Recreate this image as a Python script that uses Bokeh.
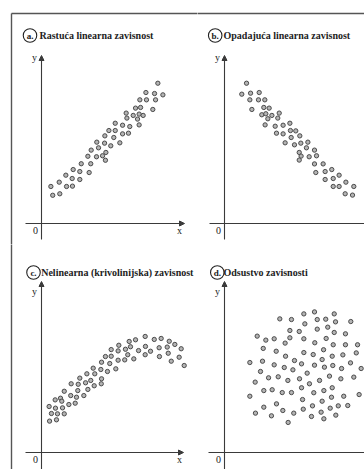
from bokeh.plotting import figure
from bokeh.layouts import gridplot
from bokeh.models import Arrow, NormalHead, Label
from bokeh.embed import file_html
from bokeh.resources import INLINE

# ---------------- data ----------------
letters = ["a.", "b.", "c.", "d."]
titles = ["Rastuća linearna zavisnost", "Opadajuća linearna zavisnost",
          "Nelinearna (krivolinijska) zavisnost", "Odsustvo zavisnosti"]

a_x = [8.08,7.25,7.85,8.43,6.83,7.29,7.92,6.53,6.88,7.73,5.88,6.37,6.78,7.06,5.93,6.67,5.12,5.63,6.13,6.78,
       4.68,5.12,4.40,5.02,5.63,6.04,3.84,4.38,4.81,5.44,3.96,4.47,3.45,3.22,3.82,4.24,4.44,2.76,3.42,2.20,
       2.66,3.31,1.69,2.13,2.66,1.23,0.65,1.74,2.15,0.78,1.27]
a_y = [8.45,7.89,7.83,7.75,7.45,7.45,7.45,6.95,6.99,6.87,6.65,6.51,6.59,6.51,6.35,6.29,6.04,5.92,5.84,5.94,
       5.60,5.60,5.28,5.18,5.40,5.44,4.90,4.84,4.68,4.86,4.56,4.28,4.42,4.05,4.02,4.08,3.81,3.60,3.60,3.25,
       3.13,3.07,2.91,2.71,2.65,2.49,2.23,2.23,2.25,1.70,1.79]

b_x = [1.53,1.20,1.81,2.41,1.76,2.36,2.80,1.90,2.73,3.10,2.59,2.87,3.29,3.80,3.01,3.70,2.82,3.52,4.07,4.54,
       3.61,4.07,4.58,4.95,4.63,5.23,4.21,4.86,5.30,5.79,5.19,5.69,6.25,5.32,5.88,6.39,5.19,6.25,6.85,6.34,
       6.99,7.45,6.99,7.55,7.96,7.55,7.96,8.43,8.98,8.38,8.89]
b_y = [8.45,7.79,7.85,7.89,7.45,7.45,7.45,6.87,6.99,6.95,6.55,6.61,6.51,6.65,6.31,6.35,5.94,5.86,5.92,6.04,
       5.44,5.40,5.60,5.58,5.18,5.28,4.86,4.74,4.84,4.90,4.28,4.56,4.42,4.06,4.02,4.08,3.82,3.59,3.59,3.07,
       3.13,3.25,2.65,2.71,2.91,2.23,2.23,2.49,2.23,1.79,1.71]

c_x = [4.84,4.44,4.84,4.17,4.74,3.59,4.12,3.15,3.70,4.58,4.17,2.66,3.06,3.42,3.66,4.15,2.06,2.55,3.22,2.52,
       1.58,2.03,2.94,2.43,1.32,0.95,1.41,1.90,2.34,0.53,0.97,1.46,0.69,1.11,1.58,0.56,1.04,
       7.20,7.83,8.31,8.87,9.26,9.70,6.53,6.09,5.37,5.32,5.83,6.18,6.74,7.22,7.57,8.17,8.73,8.80,9.56,9.91,
       9.01,8.19,7.20,6.41,5.99,5.78,5.32,5.16]
c_y = [6.20,5.78,5.80,5.44,5.36,5.08,5.00,4.74,4.74,4.88,4.44,4.48,4.20,4.34,4.02,4.14,4.14,4.11,3.80,3.73,
       3.69,3.43,3.43,3.33,3.27,3.17,3.09,2.89,2.97,2.77,2.67,2.69,2.35,2.33,2.33,1.89,1.97,
       6.99,6.81,6.87,6.70,6.51,6.25,6.79,6.69,6.46,6.12,6.22,6.37,6.14,6.39,6.10,6.31,6.35,5.98,5.74,5.24,
       5.50,5.78,5.89,5.64,5.89,5.58,5.56,5.04]

d_x = [3.84,4.65,5.51,5.58,4.54,5.19,2.27,2.87,3.45,4.21,4.54,5.51,2.69,3.59,4.24,5.51,1.76,2.64,3.45,4.15,
       4.86,5.35,4.75,2.50,3.06,3.73,4.40,5.21,2.13,2.73,3.31,4.01,4.65,5.35,1.76,3.61,2.73,4.05,5.47,5.42,
       2.15,3.26,4.81,4.42,
       6.25,7.62,6.44,7.03,7.71,8.77,6.44,7.17,7.62,8.40,6.27,7.06,7.55,8.40,9.24,6.16,6.88,7.48,8.22,9.15,
       6.25,6.78,6.94,7.52,8.13,8.75,9.49,5.74,7.29,8.08,8.98,5.90,6.60,7.48,6.20,6.90,7.43,8.28,9.35,6.11,
       6.78,7.34,7.90,8.56,6.71,7.73,6.04,6.90]
d_y = [8.05,8.01,8.35,7.75,7.35,7.29,7.01,6.77,6.85,6.59,6.91,6.85,6.27,6.10,5.80,6.02,5.42,5.50,5.28,5.12,
       5.54,5.34,4.98,4.88,4.50,4.56,4.34,4.44,4.24,3.73,3.78,3.61,3.61,3.90,3.39,2.93,2.73,2.53,2.61,3.19,
       2.37,2.21,2.37,1.81,
       8.47,8.35,8.01,8.03,7.87,7.89,7.43,7.55,7.23,7.15,6.61,6.87,6.49,6.49,6.49,5.90,6.19,5.80,5.88,6.00,
       5.26,5.60,5.14,5.24,5.06,5.40,5.06,4.78,4.60,4.44,4.54,4.14,4.34,3.90,3.60,3.73,3.33,3.39,3.49,2.81,
       3.09,2.67,2.81,2.83,2.43,2.25,2.17,2.03]

# ---------------- styling / layout ----------------
SERIF = "Liberation Serif"
INK = "#222222"
AXIS = "#3a3a3a"
FRAME = "#555555"
SY = 16.6
SX = 14.4
PAGE = 0


def make_panel(xs, ys, letter, title, left, top, w, h, ox, oy,
               circ_x, text_x, title_y, x_start, x_tip, y_tip, y_bottom, y_lab_dy,
               frame_top, frame_left, x_arrow):
    X = lambda px: (px - ox) / SX
    Y = lambda py: (oy - py) / SY
    p = figure(width=w, height=h,
               x_range=(X(left), X(left + w)), y_range=(Y(top + h), Y(top)),
               x_axis_location=None, y_axis_location=None,
               toolbar_location=None, output_backend="svg",
               min_border=0, outline_line_color=None)
    p.grid.visible = False
    p.background_fill_color = "white"

    # outer frame of the figure sheet
    if frame_top:
        p.segment(x0=[X(11 if frame_left else left - 2)], y0=[Y(13)], x1=[X(left + w + 2)], y1=[Y(13)],
                  line_color=FRAME, line_width=1.4)
    if frame_left:
        p.segment(x0=[X(11)], y0=[Y(13 if frame_top else top - 2)], x1=[X(11)], y1=[Y(top + h + 2)],
                  line_color=FRAME, line_width=1.4)

    # axes
    p.add_layout(Arrow(end=NormalHead(size=5, fill_color=AXIS, line_color=AXIS),
                       x_start=0, y_start=Y(y_bottom), x_end=0, y_end=Y(y_tip),
                       line_color=AXIS, line_width=1.1))
    if x_arrow:
        p.add_layout(Arrow(end=NormalHead(size=5, fill_color=AXIS, line_color=AXIS),
                           x_start=X(x_start), y_start=0, x_end=X(x_tip), y_end=0,
                           line_color=AXIS, line_width=1.1))
        p.add_layout(Label(x=X(ox + 138), y=Y(oy + 7), text="x", text_font=SERIF,
                           text_font_size="10px", text_color=INK,
                           text_align="center", text_baseline="middle"))
    else:
        p.segment(x0=[X(x_start)], y0=[0], x1=[X(left + w + 5)], y1=[0],
                  line_color=AXIS, line_width=1.1)

    p.add_layout(Label(x=X(ox - 7), y=Y(y_tip + y_lab_dy), text="y", text_font=SERIF,
                       text_font_size="10px", text_color=INK,
                       text_align="center", text_baseline="middle"))
    p.add_layout(Label(x=X(ox - 6), y=Y(oy + 7), text="0", text_font=SERIF,
                       text_font_size="10px", text_color=INK,
                       text_align="center", text_baseline="middle"))

    # title with circled letter
    p.scatter(x=[X(circ_x)], y=[Y(title_y)], size=13.5, marker="circle",
              fill_color=None, line_color=INK, line_width=1.1)
    p.add_layout(Label(x=X(circ_x), y=Y(title_y), text=letter, text_font=SERIF,
                       text_font_style="bold", text_font_size="9px", text_color=INK,
                       text_align="center", text_baseline="middle"))
    p.add_layout(Label(x=X(text_x), y=Y(title_y), text=title, text_font=SERIF,
                       text_font_style="bold", text_font_size="10px", text_color=INK,
                       text_align="left", text_baseline="middle"))

    # data points
    p.scatter(x=xs, y=ys, size=4.3, marker="circle",
              fill_color="#b4b4b4", line_color="#4a4a4a", line_width=1.0)
    return p


SPLIT_X = 197
SPLIT_Y = 244
RIGHT = PAGE + 364
BOTTOM = PAGE + 469

wa = SPLIT_X - PAGE
wb = RIGHT - SPLIT_X
ha = SPLIT_Y - PAGE
hc = BOTTOM - SPLIT_Y

pa = make_panel(a_x, a_y, letters[0], titles[0], PAGE, PAGE, wa, ha, 41, 223,
                29.5, 39, 35, 25, 184, 55, 239, 2, True, True, True)
pb = make_panel(b_x, b_y, letters[1], titles[1], SPLIT_X, PAGE, wb, ha, 224, 223,
                214.7, 223, 35, 209, None, 55, 239, 2, True, False, False)
pc = make_panel(c_x, c_y, letters[2], titles[2], PAGE, SPLIT_Y, wa, hc, 41, 452,
                33, 40.7, 272, 25, 183, 281, BOTTOM + 5, 10, False, True, True)
pd = make_panel(d_x, d_y, letters[3], titles[3], SPLIT_X, SPLIT_Y, wb, hc, 224, 452,
                216.8, 223, 272, 208, None, 281, BOTTOM + 5, 10, False, False, False)

grid = gridplot([[pa, pb], [pc, pd]], toolbar_location=None)

open("out.html", "w").write(file_html(grid, INLINE))
